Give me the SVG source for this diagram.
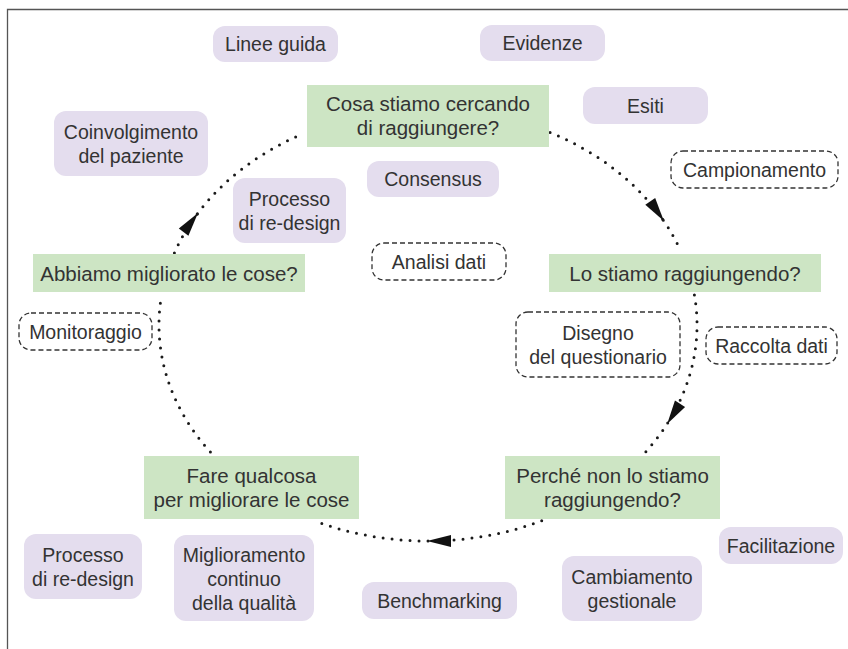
<svg xmlns="http://www.w3.org/2000/svg" width="848" height="649" viewBox="0 0 848 649">
<defs>
<style>
.g rect{fill:#cde5c4;}
.p rect{fill:#e4ddee;}
.d rect{fill:#fff;stroke:#333;stroke-width:1.3;stroke-dasharray:5 3;}
text{font-family:"Liberation Sans",Arial,sans-serif;fill:#333;text-anchor:middle;}
.g text{font-size:20.5px;}
.p text,.d text{font-size:19.5px;}
.c path{fill:none;stroke:#1a1a1a;stroke-width:3;stroke-linecap:round;stroke-dasharray:0 9;}
</style>
<marker id="ah" markerUnits="userSpaceOnUse" markerWidth="24" markerHeight="14" viewBox="0 0 24 14" refX="23" refY="7" orient="auto" overflow="visible">
<path d="M0,1 L24,7 L0,13 z" fill="#111" stroke="none"/>
</marker>
</defs>
<rect width="848" height="649" fill="#fff"/>
<path d="M7.5,649 V9.5 H848" fill="none" stroke="#555" stroke-width="1.3"/>

<g class="c" id="connectors">
<path d="M550.1,132.5 A269,216 0 0 1 663.3,220.3" marker-end="url(#ah)"/>
<path d="M663.3,220.3 A269,216 0 0 1 680.0,249.4"/>
<path d="M694.4,294.9 A269,216 0 0 1 667.7,423.1" marker-end="url(#ah)"/>
<path d="M667.7,423.1 A269,216 0 0 1 645.6,452.0"/>
<path d="M541.7,520.8 A269,216 0 0 1 428,541" marker-end="url(#ah)"/>
<path d="M428,541 A269,216 0 0 1 314.3,520.8"/>
<path d="M210.4,452.0 A269,216 0 0 1 161.6,294.9"/>
<path d="M174.4,252.9 A269,216 0 0 1 197.4,213.8" marker-end="url(#ah)"/>
<path d="M197.4,213.8 A269,216 0 0 1 303.8,133.4"/>
</g>

<g class="g" id="n-cosa"><rect x="307" y="85" width="242" height="62"/><text x="428" y="111">Cosa stiamo cercando</text><text x="428" y="135">di raggiungere?</text></g>
<g class="g" id="n-lo-stiamo"><rect x="549" y="254" width="272" height="38"/><text x="685" y="280.5">Lo stiamo raggiungendo?</text></g>
<g class="g" id="n-abbiamo"><rect x="33" y="254" width="272" height="38"/><text x="169" y="280.5">Abbiamo migliorato le cose?</text></g>
<g class="g" id="n-fare"><rect x="144" y="456" width="215" height="63"/><text x="251.5" y="482.5">Fare qualcosa</text><text x="251.5" y="506.5">per migliorare le cose</text></g>
<g class="g" id="n-perche"><rect x="505" y="456" width="215" height="63"/><text x="612.5" y="482.5">Perché non lo stiamo</text><text x="612.5" y="506.5">raggiungendo?</text></g>

<g class="p" id="n-linee"><rect x="213" y="26" width="125" height="36" rx="12"/><text x="275.5" y="51">Linee guida</text></g>
<g class="p" id="n-evidenze"><rect x="480" y="25" width="125" height="36" rx="12"/><text x="542.5" y="50">Evidenze</text></g>
<g class="p" id="n-esiti"><rect x="583" y="87" width="125" height="37" rx="12"/><text x="645.5" y="112.5">Esiti</text></g>
<g class="p" id="n-coinvolgimento"><rect x="54" y="111" width="154" height="65" rx="12"/><text x="131" y="139">Coinvolgimento</text><text x="131" y="163">del paziente</text></g>
<g class="p" id="n-consensus"><rect x="367" y="161" width="132" height="36" rx="12"/><text x="433" y="186">Consensus</text></g>
<g class="p" id="n-processo1"><rect x="233" y="178" width="113" height="65" rx="12"/><text x="289.5" y="206">Processo</text><text x="289.5" y="230">di re-design</text></g>
<g class="p" id="n-processo2"><rect x="24" y="534" width="118" height="65" rx="12"/><text x="83" y="562">Processo</text><text x="83" y="586">di re-design</text></g>
<g class="p" id="n-miglioramento"><rect x="174" y="535" width="140" height="86" rx="12"/><text x="244" y="562">Miglioramento</text><text x="244" y="586">continuo</text><text x="244" y="610">della qualità</text></g>
<g class="p" id="n-benchmarking"><rect x="362" y="582" width="155" height="37" rx="12"/><text x="439.5" y="607.5">Benchmarking</text></g>
<g class="p" id="n-cambiamento"><rect x="562" y="556" width="140" height="65" rx="12"/><text x="632" y="584">Cambiamento</text><text x="632" y="608">gestionale</text></g>
<g class="p" id="n-facilitazione"><rect x="719" y="527" width="124" height="37" rx="12"/><text x="781" y="552.5">Facilitazione</text></g>

<g class="d" id="n-campionamento"><rect x="671" y="151" width="167" height="37" rx="12"/><text x="754.5" y="176.5">Campionamento</text></g>
<g class="d" id="n-analisi"><rect x="372" y="243" width="134" height="37" rx="12"/><text x="439" y="268.5">Analisi dati</text></g>
<g class="d" id="n-monitoraggio"><rect x="19" y="313" width="133" height="37" rx="12"/><text x="85.5" y="338.5">Monitoraggio</text></g>
<g class="d" id="n-disegno"><rect x="516" y="312" width="164" height="65" rx="12"/><text x="598" y="340">Disegno</text><text x="598" y="364">del questionario</text></g>
<g class="d" id="n-raccolta"><rect x="706" y="327" width="131" height="37" rx="12"/><text x="771.5" y="352.5">Raccolta dati</text></g>
</svg>
